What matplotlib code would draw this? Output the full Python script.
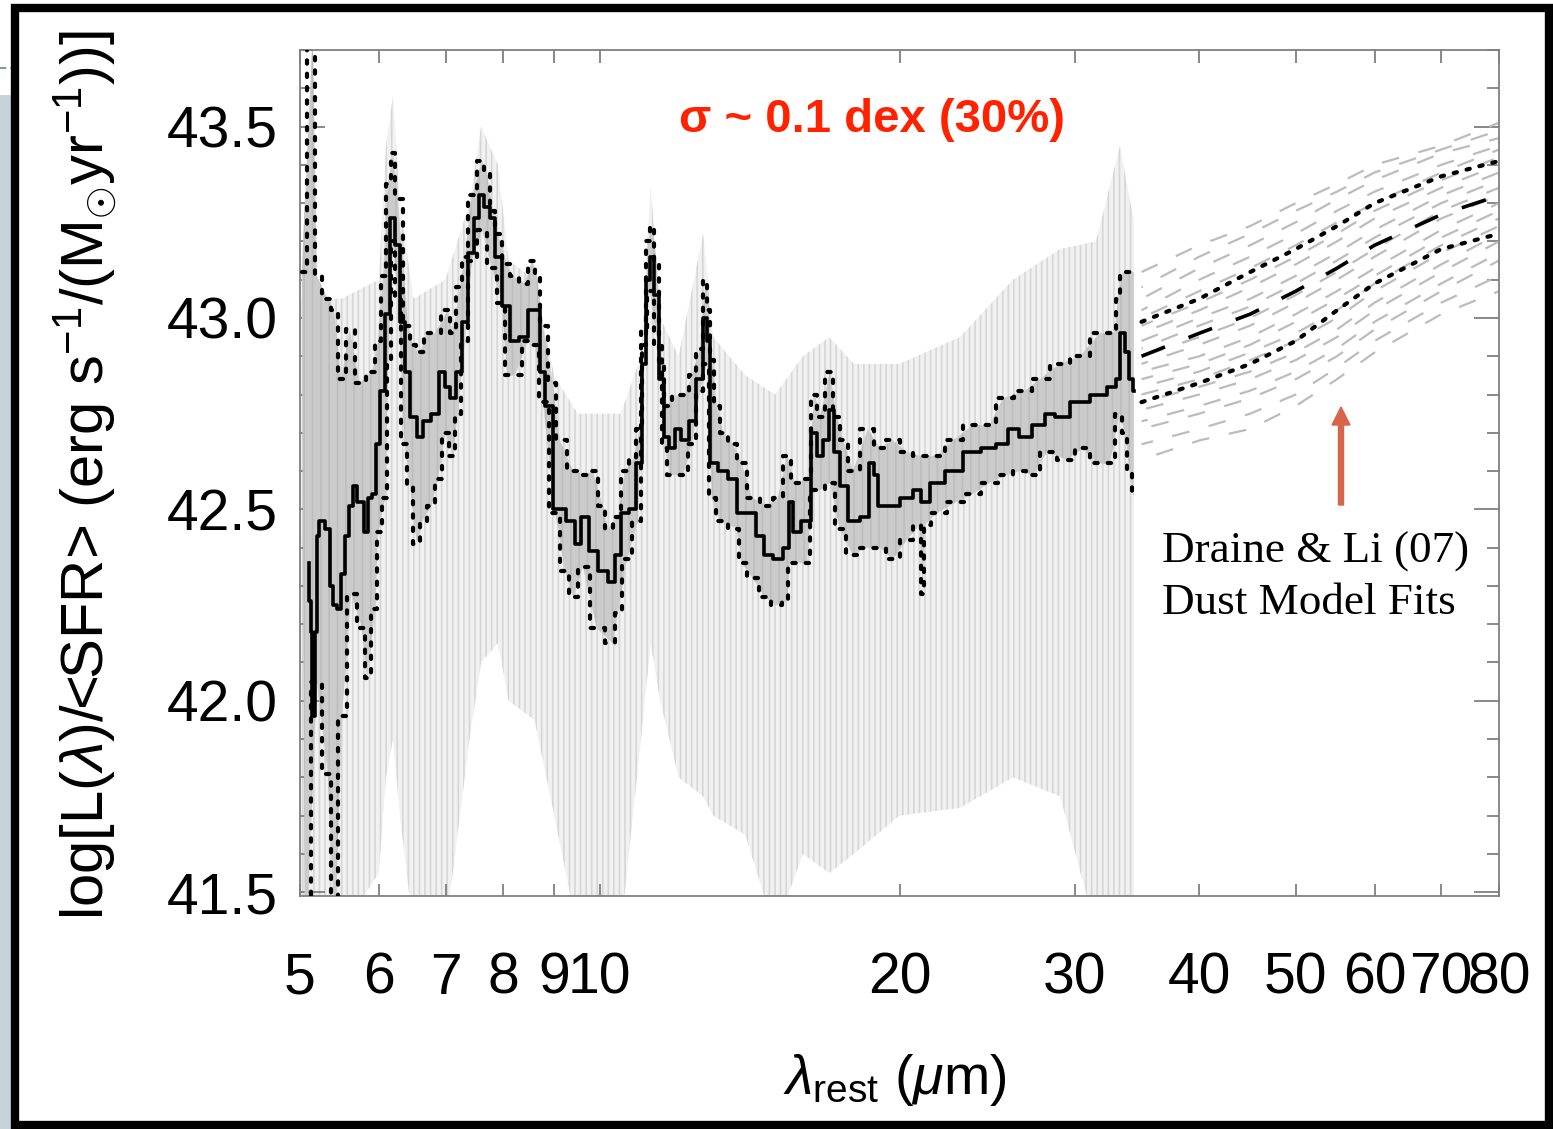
import numpy as np
import matplotlib
matplotlib.use('Agg')
import matplotlib.pyplot as plt
from matplotlib.patches import Rectangle, FancyArrow
from matplotlib.lines import Line2D
from matplotlib.ticker import MultipleLocator, NullLocator, FormatStrFormatter

plt.rcParams['font.family'] = ['Liberation Sans', 'DejaVu Sans']
plt.rcParams['mathtext.fontset'] = 'custom'
plt.rcParams['mathtext.rm'] = 'Liberation Sans'
plt.rcParams['mathtext.it'] = 'Liberation Sans:italic'
plt.rcParams['hatch.linewidth'] = 1.2

# mean spectrum (black step line)
mean_lam = [5.105, 5.117, 5.141, 5.152, 5.189, 5.200, 5.261, 5.334, 5.372, 5.409,
            5.484, 5.522, 5.574, 5.613, 5.678, 5.744, 5.838, 5.878, 5.947, 5.988,
            6.058, 6.128, 6.199, 6.271, 6.344, 6.418, 6.493, 6.599, 6.706, 6.832,
            6.959, 7.040, 7.122, 7.238, 7.322, 7.442, 7.528, 7.616, 7.704, 7.812,
            7.903, 8.069, 8.181, 8.412, 8.549, 8.648, 8.769, 8.850, 9.120, 9.399,
            9.508, 9.664, 9.844, 10.07, 10.31, 10.43, 10.60, 10.80, 10.97, 11.10,
            11.18, 11.28, 11.41, 11.55, 11.68, 11.82, 11.98, 12.18, 12.38, 12.61,
            12.78, 12.87, 12.96, 13.30, 13.61, 13.89, 14.22, 14.48, 14.75, 15.10,
            15.42, 15.59, 15.70, 16.18, 16.45, 16.64, 16.91, 17.11, 17.30, 17.55,
            17.96, 18.59, 18.72, 18.98, 19.11, 19.70, 20.34, 20.96, 21.11, 21.80,
            22.62, 23.69, 24.64, 25.40, 25.99, 26.72, 27.67, 28.31, 28.97, 30.35,
            31.78, 32.90, 33.13, 33.52, 33.83, 34.22, 34.38]
mean_val = [42.36, 42.26, 42.18, 41.96, 42.18, 42.43, 42.47, 42.45, 42.30, 42.25,
            42.24, 42.33, 42.43, 42.51, 42.56, 42.52, 42.44, 42.53, 42.54, 42.67,
            42.81, 43.01, 43.26, 43.19, 42.99, 42.86, 42.74, 42.69, 42.73, 42.75,
            42.86, 42.82, 42.79, 42.86, 42.99, 43.17, 43.26, 43.32, 43.29, 43.26,
            43.16, 43.03, 42.94, 42.95, 43.02, 43.02, 42.86, 42.77, 42.50, 42.47,
            42.41, 42.48, 42.39, 42.34, 42.31, 42.38, 42.49, 42.50, 42.62, 42.88,
            43.10, 43.16, 43.06, 42.84, 42.69, 42.66, 42.71, 42.68, 42.73, 42.84,
            43.00, 42.94, 42.62, 42.60, 42.58, 42.49, 42.49, 42.43, 42.38, 42.37,
            42.40, 42.52, 42.44, 42.47, 42.70, 42.64, 42.68, 42.76, 42.65, 42.56,
            42.47, 42.48, 42.62, 42.59, 42.51, 42.51, 42.53, 42.55, 42.52, 42.57,
            42.60, 42.65, 42.66, 42.67, 42.71, 42.69, 42.72, 42.75, 42.74, 42.78,
            42.80, 42.82, 42.84, 42.96, 42.91, 42.84, 42.81]

# +1 sigma (dotted)
up_lam = [5.02, 5.15, 5.20, 5.33, 5.41, 5.50, 5.61, 5.74, 5.91, 5.99,
          6.06, 6.13, 6.20, 6.27, 6.42, 6.49, 6.60, 6.71, 6.83, 7.04,
          7.12, 7.24, 7.32, 7.44, 7.62, 7.70, 7.81, 7.90, 8.07, 8.18,
          8.41, 8.55, 8.65, 8.77, 8.97, 9.12, 9.40, 9.66, 9.84, 10.07,
          10.19, 10.43, 10.60, 10.80, 10.97, 11.10, 11.18, 11.28, 11.41, 11.55,
          11.68, 11.98, 12.18, 12.38, 12.61, 12.78, 12.87, 12.96, 13.11, 13.30,
          13.61, 13.89, 14.22, 14.75, 15.10, 15.42, 15.70, 16.18, 16.45, 16.64,
          17.03, 17.30, 17.55, 17.96, 18.59, 19.11, 19.70, 20.34, 20.96, 21.80,
          22.62, 23.69, 24.64, 25.40, 26.72, 27.67, 28.97, 30.35, 31.78, 32.90,
          33.13, 33.52, 34.38]
up_val = [43.12, 43.75, 43.11, 43.05, 43.02, 42.84, 42.97, 42.83, 42.86, 42.94,
          43.11, 43.35, 43.43, 43.31, 42.98, 42.93, 42.91, 42.96, 42.96, 43.02,
          42.96, 43.08, 43.16, 43.32, 43.41, 43.38, 43.28, 43.22, 43.14, 43.11,
          43.09, 43.15, 43.11, 42.98, 42.83, 42.68, 42.60, 42.59, 42.60, 42.51,
          42.45, 42.48, 42.60, 42.63, 42.71, 42.93, 43.20, 43.24, 43.15, 42.88,
          42.77, 42.80, 42.80, 42.85, 42.92, 43.10, 43.02, 42.89, 42.77, 42.70,
          42.67, 42.62, 42.53, 42.51, 42.53, 42.64, 42.57, 42.58, 42.80, 42.74,
          42.86, 42.74, 42.68, 42.60, 42.71, 42.66, 42.68, 42.65, 42.64, 42.64,
          42.68, 42.72, 42.72, 42.79, 42.81, 42.84, 42.88, 42.90, 42.96, 42.96,
          43.05, 43.12, 43.12]

# -1 sigma (dotted)
lo_lam = [5.06, 5.20, 5.33, 5.42, 5.51, 5.63, 5.77, 5.84, 5.95, 5.99,
          6.09, 6.13, 6.20, 6.27, 6.37, 6.45, 6.55, 6.64, 6.78, 6.88,
          7.00, 7.12, 7.20, 7.32, 7.44, 7.62, 7.79, 7.98, 8.07, 8.22,
          8.47, 8.61, 8.77, 9.02, 9.23, 9.40, 9.62, 9.93, 10.31, 10.43,
          10.65, 10.92, 11.10, 11.23, 11.44, 11.63, 11.76, 12.12, 12.38, 12.61,
          12.81, 12.96, 13.20, 13.73, 13.89, 14.25, 14.65, 15.06, 15.42, 15.52,
          16.14, 16.37, 16.64, 17.03, 17.42, 17.96, 18.46, 19.11, 19.70, 20.34,
          20.96, 21.11, 21.21, 21.80, 22.83, 23.69, 24.64, 25.63, 26.42, 27.22,
          28.12, 29.45, 30.56, 31.56, 32.52, 33.28, 33.67, 34.06, 34.38]
lo_val = [41.30, 42.05, 41.81, 41.40, 41.96, 42.28, 42.19, 42.06, 42.24, 42.44,
          42.53, 42.88, 43.20, 43.05, 42.67, 42.56, 42.41, 42.47, 42.51, 42.58,
          42.70, 42.64, 42.75, 42.94, 43.15, 43.23, 43.13, 43.04, 42.85, 42.85,
          42.94, 42.93, 42.78, 42.49, 42.34, 42.27, 42.35, 42.19, 42.15, 42.23,
          42.37, 42.47, 42.97, 43.07, 42.93, 42.66, 42.59, 42.59, 42.67, 42.81,
          42.88, 42.53, 42.47, 42.45, 42.36, 42.32, 42.27, 42.25, 42.26, 42.36,
          42.36, 42.55, 42.55, 42.57, 42.45, 42.38, 42.40, 42.40, 42.37, 42.42,
          42.46, 42.28, 42.46, 42.49, 42.52, 42.54, 42.57, 42.59, 42.60, 42.59,
          42.65, 42.63, 42.66, 42.62, 42.62, 42.75, 42.70, 42.60, 42.53]

# extent of the individual (light grey) spectra
env_lam = [5.00, 5.50, 6.00, 6.10, 6.20, 6.30, 6.50, 7.00, 7.40, 7.60,
           7.90, 8.10, 8.60, 9.00, 9.50, 10.5, 11.0, 11.25, 11.5, 12.0,
           12.7, 13.0, 14.0, 15.0, 16.0, 17.0, 18.0, 20.0, 23.0, 26.0,
           29.0, 31.5, 33.3, 34.4]
env_hi = [43.05, 43.05, 43.10, 43.45, 43.58, 43.30, 43.05, 43.10, 43.30, 43.50,
          43.40, 43.15, 43.10, 42.85, 42.75, 42.75, 42.90, 43.35, 43.00, 42.90,
          43.22, 42.95, 42.85, 42.80, 42.90, 42.95, 42.88, 42.88, 42.95, 43.10,
          43.18, 43.20, 43.45, 43.25]
env_lo = [41.40, 41.40, 41.55, 41.80, 41.90, 41.70, 41.40, 41.40, 41.90, 42.10,
          42.15, 42.00, 41.95, 41.70, 41.40, 41.40, 41.90, 42.15, 42.00, 41.80,
          41.75, 41.70, 41.65, 41.40, 41.60, 41.55, 41.60, 41.70, 41.72, 41.80,
          41.75, 41.40, 41.40, 41.40]

# Draine & Li model fits
mod_lam = [35, 40, 45, 50, 55, 60, 70, 80]
mod_mean = [42.90, 42.96, 43.01, 43.07, 43.13, 43.19, 43.27, 43.32]
mod_up = [42.99, 43.05, 43.12, 43.18, 43.24, 43.30, 43.37, 43.41]
mod_lo = [42.78, 42.83, 42.88, 42.94, 43.02, 43.09, 43.18, 43.22]
mod_fits = [
    [43.12, 43.19, 43.24, 43.30, 43.35, 43.40, 43.45, 43.51],
    [43.08, 43.16, 43.22, 43.28, 43.33, 43.38, 43.44, 43.49],
    [43.05, 43.13, 43.19, 43.25, 43.31, 43.36, 43.43, 43.47],
    [43.02, 43.10, 43.16, 43.22, 43.28, 43.33, 43.40, 43.45],
    [43.00, 43.07, 43.13, 43.19, 43.25, 43.30, 43.38, 43.44],
    [42.98, 43.04, 43.10, 43.16, 43.22, 43.28, 43.36, 43.42],
    [42.96, 43.02, 43.08, 43.14, 43.20, 43.26, 43.34, 43.40],
    [42.94, 43.00, 43.05, 43.11, 43.17, 43.23, 43.32, 43.38],
    [42.92, 42.98, 43.03, 43.09, 43.15, 43.21, 43.30, 43.36],
    [42.90, 42.95, 43.00, 43.06, 43.12, 43.18, 43.28, 43.34],
    [42.88, 42.93, 42.98, 43.04, 43.10, 43.16, 43.26, 43.32],
    [42.86, 42.90, 42.95, 43.01, 43.07, 43.13, 43.23, 43.30],
    [42.84, 42.88, 42.93, 42.99, 43.05, 43.11, 43.21, 43.28],
    [42.82, 42.86, 42.91, 42.96, 43.02, 43.09, 43.19, 43.26],
    [42.80, 42.84, 42.89, 42.94, 43.00, 43.07, 43.17, 43.24],
    [42.78, 42.82, 42.86, 42.91, 42.97, 43.04, 43.14, 43.22],
    [42.76, 42.80, 42.84, 42.89, 42.95, 43.02, 43.12, 43.20],
    [42.73, 42.77, 42.81, 42.86, 42.92, 42.99, 43.09, 43.17],
    [42.71, 42.75, 42.79, 42.84, 42.90, 42.97, 43.07, 43.15],
    [42.67, 42.71, 42.75, 42.80, 42.87, 42.94, 43.04, 43.11],
    [42.63, 42.68, 42.71, 42.77, 42.84, 42.91, 43.01, 43.07],
]

xticks = [5, 6, 7, 8, 9, 10, 20, 30, 40, 50, 60, 70, 80]

W, H = 1553, 1129
fig = plt.figure(figsize=(W / 100, H / 100), dpi=100)

# slide decorations round the picture
fig.patches.append(Rectangle((0, 0), 12 / W, 1 - 95 / H, transform=fig.transFigure,
                             facecolor='#c7d2d9', edgecolor='none', zorder=0))
fig.lines.append(Line2D([0, 12 / W], [1 - 68 / H, 1 - 68 / H], transform=fig.transFigure,
                        color='#7d9b9b', lw=1.5, ls=(0, (3, 2))))
fig.patches.append(Rectangle((15.5 / W, 1 - 1125 / H), (1549 - 15.5) / W, (1125 - 8) / H,
                             transform=fig.transFigure, fill=False, edgecolor='black',
                             lw=6, zorder=5))

ax = fig.add_axes([300 / W, 1 - 896 / H, 1199 / W, 846 / H])
ax.set_xscale('log')

# grey cloud of individual spectra (striped, like many step spectra)
ax.fill(np.r_[env_lam, env_lam[::-1]], np.r_[env_hi, env_lo[::-1]],
        facecolor='#f1f1f1', edgecolor='#d6d6d6', hatch='|||', lw=0, zorder=1)
ax.fill(np.r_[up_lam, lo_lam[::-1]], np.r_[up_val, lo_val[::-1]],
        facecolor='#cbcbcb', edgecolor='#bdbdbd', hatch='||', lw=0, zorder=2)

# mean and sigma
ax.plot(mean_lam, mean_val, color='black', lw=2.6, drawstyle='steps-mid', zorder=5)
dot = (0, (0.8, 2.4))
for lam, val in ((up_lam, up_val), (lo_lam, lo_val)):
    ax.plot(lam, val, color='black', lw=3.0, ls=dot, dash_capstyle='round',
            drawstyle='steps-mid', zorder=4)

# model fits
for i, f in enumerate(mod_fits):
    ax.plot(mod_lam, f, color='#bcbcbc', lw=1.6, ls=((i * 7.3) % 17, (8, 9)), zorder=2)
ax.plot(mod_lam, mod_mean, color='black', lw=2.6, ls=(0, (7, 7)), zorder=5)
ax.plot(mod_lam, mod_up, color='black', lw=3.0, ls=dot, dash_capstyle='round', zorder=5)
ax.plot(mod_lam, mod_lo, color='black', lw=3.0, ls=dot, dash_capstyle='round', zorder=5)

ax.set_xlim(5, 80)
ax.set_ylim(41.49, 43.70)
ax.set_xticks(xticks, labels=[str(v) for v in xticks])
ax.xaxis.set_minor_locator(NullLocator())
ax.yaxis.set_major_locator(MultipleLocator(0.5))
ax.yaxis.set_minor_locator(MultipleLocator(0.1))
ax.yaxis.set_major_formatter(FormatStrFormatter('%.1f'))
ax.tick_params(which='both', direction='in', top=True, right=True, color='#7f7f7f')
ax.tick_params(axis='y', which='major', length=18, width=1.3, labelsize=41, pad=16)
ax.tick_params(axis='y', which='minor', length=9, width=1.3)
ax.tick_params(axis='x', which='major', length=9, width=1.3, labelsize=41, pad=40)
for s in ax.spines.values():
    s.set_color('#7f7f7f')
    s.set_linewidth(1.3)

fig.text(85 / W, 1 - 475 / H,
         r'log[L($\lambda$)/<SFR> (erg s$^{-1}$/(M$_{\odot}$yr$^{-1}$))]',
         rotation=90, fontsize=43, ha='center', va='center')
fig.text(895 / W, 1 - 1080 / H, r'$\lambda_{\mathrm{rest}}$ ($\mu$m)',
         fontsize=40, ha='center', va='center')

fig.text(872 / W, 1 - 120 / H, 'σ ~ 0.1 dex (30%)', color='#ff2200', fontsize=34,
         fontweight='bold', ha='center', va='center')
fig.text(1162 / W, 1 - 552 / H, 'Draine & Li (07)', family='Liberation Serif',
         fontsize=32.5, ha='left', va='center')
fig.text(1162 / W, 1 - 603 / H, 'Dust Model Fits', family='Liberation Serif',
         fontsize=32.5, ha='left', va='center')

fig.patches.append(FancyArrow(13.41, (H - 505) / 100, 0, 0.98, width=0.05,
                              head_width=0.18, head_length=0.18,
                              length_includes_head=True, color='#d6654b',
                              transform=fig.dpi_scale_trans))

fig.savefig('out.png', dpi=100)
